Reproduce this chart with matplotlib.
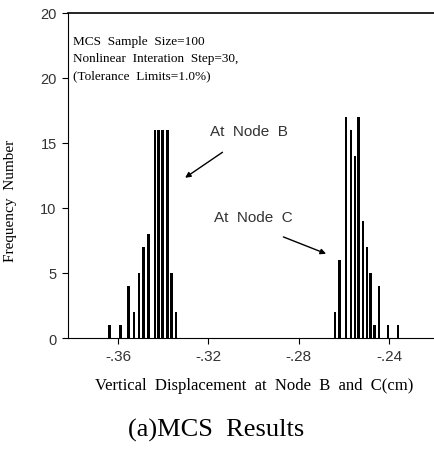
import numpy as np
import matplotlib
matplotlib.use("Agg")
import matplotlib.pyplot as plt

# histogram bars (displacement in cm, count)
node_b_x = [-0.3637, -0.3588, -0.3553, -0.3530, -0.3508, -0.3486, -0.3464,
            -0.3437, -0.3420, -0.3402, -0.3380, -0.3362, -0.3344]
node_b_n = [1, 1, 4, 2, 5, 7, 8, 16, 16, 16, 16, 5, 2]

node_c_x = [-0.2640, -0.2618, -0.2591, -0.2569, -0.2551, -0.2534, -0.2516,
            -0.2498, -0.2481, -0.2463, -0.2445, -0.2405, -0.2361]
node_c_n = [2, 6, 17, 16, 14, 17, 9, 7, 5, 1, 4, 1, 1]

xticks = [-0.36, -0.32, -0.28, -0.24]
xtick_labels = ["-.36", "-.32", "-.28", "-.24"]
yticks = [0, 5, 10, 15, 20, 25]
ytick_labels = ["0", "5", "10", "15", "20", "20"]

info_lines = ["MCS  Sample  Size=100",
              "Nonlinear  Interation  Step=30,",
              "(Tolerance  Limits=1.0%)"]

serif = ["Liberation Serif", "DejaVu Serif"]
sans = ["Liberation Sans", "DejaVu Sans"]

fig = plt.figure(figsize=(4.35, 4.6), dpi=100)
ax = fig.add_axes([0.156, 0.263, 0.844, 0.707])

ax.bar(node_b_x, node_b_n, width=0.0011, color="black")
ax.bar(node_c_x, node_c_n, width=0.0011, color="black")

ax.set_xlim(-0.3822, -0.2196)
ax.set_ylim(0, 25)
ax.set_xticks(xticks)
ax.set_xticklabels(xtick_labels, family=sans, fontsize=11, color="#333333")
ax.set_yticks(yticks)
ax.set_yticklabels(ytick_labels, family=sans, fontsize=10.5, color="#333333")
ax.tick_params(direction="out", length=4, width=0.8, pad=4)
ax.spines["right"].set_visible(False)
ax.spines["top"].set_linewidth(1.2)

ax.set_ylabel("Frequency  Number", family=serif, fontsize=11)
ax.yaxis.set_label_coords(-0.139, 0.425)
ax.set_xlabel("Vertical  Displacement  at  Node  B  and  C(cm)", family=serif,
              fontsize=12)
ax.xaxis.set_label_coords(0.507, -0.12)

for i, line in enumerate(info_lines):
    ax.text(-0.3801, 22.8 - i * 1.3, line, family=serif, fontsize=9.5,
            va="center", ha="left")

ax.annotate("", xy=(-0.3313, 12.2), xytext=(-0.3127, 14.4),
            arrowprops=dict(arrowstyle="-|>", color="black", lw=1,
                            mutation_scale=8))
ax.text(-0.3194, 15.9, "At  Node  B", family=sans, fontsize=11, va="center",
        color="#333333")

ax.annotate("", xy=(-0.2667, 6.4), xytext=(-0.2879, 7.85),
            arrowprops=dict(arrowstyle="-|>", color="black", lw=1,
                            mutation_scale=8))
ax.text(-0.3176, 9.3, "At  Node  C", family=sans, fontsize=11, va="center",
        color="#333333")

fig.text(0.497, 0.065, "(a)MCS  Results", family=serif, fontsize=19,
         ha="center", va="center")

fig.savefig("out.png", dpi=100)
